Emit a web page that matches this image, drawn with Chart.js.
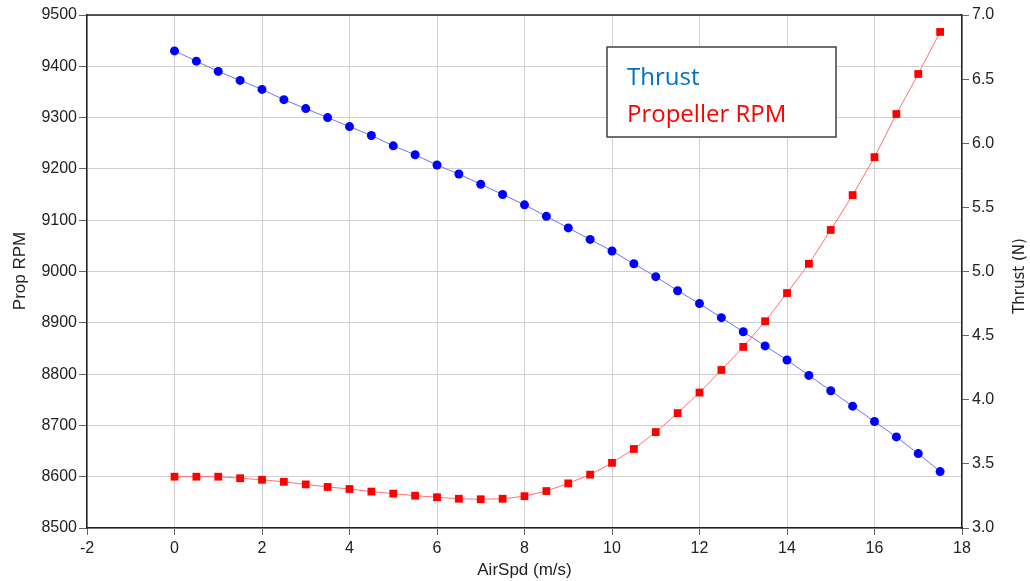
<!DOCTYPE html>
<html>
<head>
<meta charset="utf-8">
<script src="https://cdn.jsdelivr.net/npm/chart.js@4"></script>
<style>
  body { margin: 0; background: #fff; }
  canvas { display: block; }
</style>
</head>
<body>
<canvas id="myChart" width="1030" height="581"></canvas>
<script>
// air speed (m/s)
var airSpd = [0, 0.5, 1, 1.5, 2, 2.5, 3, 3.5, 4, 4.5, 5, 5.5, 6, 6.5, 7, 7.5, 8, 8.5,
  9, 9.5, 10, 10.5, 11, 11.5, 12, 12.5, 13, 13.5, 14, 14.5, 15, 15.5, 16, 16.5, 17, 17.5];
// thrust (N)
var thrust = [6.72, 6.64, 6.56, 6.49, 6.42, 6.34, 6.27, 6.20, 6.13, 6.06, 5.98, 5.91,
  5.83, 5.76, 5.68, 5.60, 5.52, 5.43, 5.34, 5.25, 5.16, 5.06, 4.96, 4.85, 4.75, 4.64,
  4.53, 4.42, 4.31, 4.19, 4.07, 3.95, 3.83, 3.71, 3.58, 3.44];
// propeller rpm
var rpm = [8600, 8600, 8600, 8597, 8594, 8590, 8585, 8580, 8576, 8571, 8567, 8563,
  8560, 8557, 8556, 8557, 8562, 8572, 8587, 8604, 8627, 8654, 8687, 8724, 8764, 8808,
  8853, 8903, 8958, 9015, 9081, 9149, 9223, 9307, 9385, 9467];

var tickFont = { family: 'Liberation Sans', size: 16 };

function pts(xs, ys) {
  var out = [];
  for (var i = 0; i < xs.length; i++) out.push({ x: xs[i], y: ys[i] });
  return out;
}

// top border, axis titles and the legend box
var extras = {
  id: 'extras',
  afterDraw: function (chart) {
    var c = chart.ctx, a = chart.chartArea;
    c.save();
    c.strokeStyle = '#222';
    c.lineWidth = 1.5;
    c.beginPath();
    c.moveTo(a.left, a.top);
    c.lineTo(a.right, a.top);
    c.stroke();

    // axis titles
    c.fillStyle = '#222';
    c.textAlign = 'center';
    c.textBaseline = 'middle';
    c.font = '17px "Liberation Sans"';
    c.fillText('AirSpd (m/s)', (a.left + a.right) / 2, 570);
    c.save();
    c.translate(20, 271);
    c.rotate(-Math.PI / 2);
    c.fillText('Prop RPM', 0, 0);
    c.restore();
    c.save();
    c.translate(1020, 276);
    c.rotate(-Math.PI / 2);
    c.font = '15px "DejaVu Sans"';
    c.fillText('Thrust (N)', 0, 0);
    c.restore();

    // legend
    c.fillStyle = '#fff';
    c.fillRect(607, 47, 229, 90);
    c.strokeStyle = '#404040';
    c.strokeRect(607, 47, 229, 90);
    c.font = '24px "Open Sans"';
    c.textAlign = 'left';
    c.textBaseline = 'alphabetic';
    c.fillStyle = '#0070C0';
    c.fillText('Thrust', 627, 85);
    c.fillStyle = '#FF0000';
    c.fillText('Propeller RPM', 627, 122);
    c.restore();
  }
};

const ctx = document.getElementById('myChart').getContext('2d');
var myChart = new Chart(ctx, {
  type: 'line',
  data: {
    datasets: [{
      label: 'Thrust',
      data: pts(airSpd, thrust),
      yAxisID: 'y1',
      borderColor: '#7070ff',
      borderWidth: 1,
      pointStyle: 'circle',
      pointRadius: 4.5,
      pointBackgroundColor: '#0000ff',
      pointBorderColor: '#0000ff',
      pointBorderWidth: 0
    }, {
      label: 'Propeller RPM',
      data: pts(airSpd, rpm),
      yAxisID: 'y',
      borderColor: '#ff7070',
      borderWidth: 1,
      pointStyle: 'rect',
      pointRadius: 5.5,
      pointBackgroundColor: '#ff0000',
      pointBorderColor: '#ff0000',
      pointBorderWidth: 0
    }]
  },
  plugins: [extras],
  options: {
    responsive: false,
    animation: false,
    layout: { padding: { top: 15, left: 0, right: 0, bottom: 0 } },
    plugins: { legend: { display: false }, tooltip: { enabled: false } },
    scales: {
      x: {
        type: 'linear',
        min: -2, max: 18,
        ticks: { stepSize: 2, color: '#222', font: tickFont, padding: 4,
          callback: function (v) { return String(v); } },
        grid: { color: '#d0d0d0', tickColor: '#666', tickLength: 7 },
        border: { color: '#222', width: 1.5 },
        afterFit: function (s) { s.height = 53; }
      },
      y: {
        position: 'left',
        min: 8500, max: 9500,
        ticks: { stepSize: 100, color: '#222', font: tickFont, padding: 2,
          callback: function (v) { return String(v); } },
        grid: { color: '#d0d0d0', tickColor: '#666', tickLength: 8 },
        border: { color: '#222', width: 1.5 },
        afterFit: function (s) { s.width = 87; }
      },
      y1: {
        position: 'right',
        min: 3, max: 7,
        ticks: { stepSize: 0.5, color: '#222', font: tickFont, padding: 3,
          callback: function (v) { return v.toFixed(1); } },
        grid: { drawOnChartArea: false, tickColor: '#666', tickLength: 7 },
        border: { color: '#222', width: 1.5 },
        afterFit: function (s) { s.width = 68; }
      }
    }
  }
});
</script>
</body>
</html>
